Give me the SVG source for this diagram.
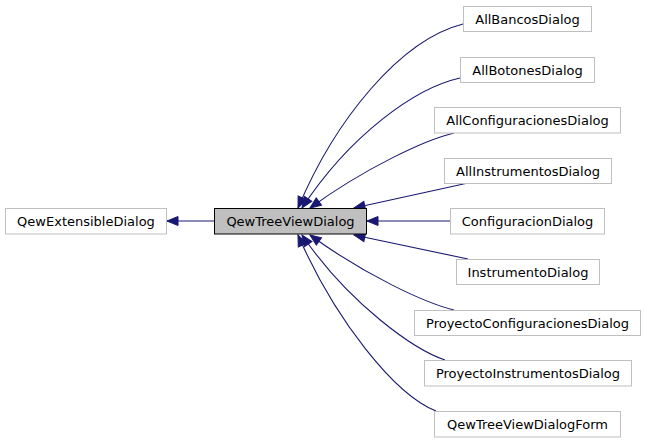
<svg xmlns="http://www.w3.org/2000/svg" width="645" height="443" viewBox="0 0 645 443">
<defs>
<style>
.n rect{fill:#ffffff;stroke:#bfbfbf;stroke-width:1}
.n text{font-family:"DejaVu Sans",sans-serif;font-size:13px;fill:#000000;text-anchor:middle}
#n_main rect{fill:#bfbfbf;stroke:#000000}
.e path{fill:none;stroke:#191970;stroke-width:1.1;marker-end:url(#ah)}
</style>
<marker id="ah" markerUnits="userSpaceOnUse" markerWidth="13" markerHeight="10" refX="11" refY="4.5" orient="auto" overflow="visible">
<path d="M0,0 L11,4.5 L0,9 z" fill="#191970" stroke="#191970" stroke-width="1"/>
</marker>
</defs>
<rect width="645" height="443" fill="#ffffff"/>
<g class="e" id="edges">
<path d="M214,221 L167,221"/>
<path d="M463,24 C400,40 335,120 298,208"/>
<path d="M460,78 C415,88 350,135 302,208"/>
<path d="M454,133 C425,140 365,168 310,208"/>
<path d="M468,183 L354,208"/>
<path d="M450,221 L367,221"/>
<path d="M468,259 L354,235"/>
<path d="M454,310 C425,303 365,275 310,235"/>
<path d="M445,360 C415,350 350,305 302,235"/>
<path d="M436,411 C395,395 335,320 298,235"/>
</g>
<g class="n" id="n_ext"><rect x="5.5" y="208.5" width="161" height="25.5"/><text x="86" y="225.5">QewExtensibleDialog</text></g>
<g class="n" id="n_main"><rect x="214.5" y="208.5" width="152" height="25.5"/><text x="290.5" y="225.5">QewTreeViewDialog</text></g>
<g class="n" id="n_bancos"><rect x="463.5" y="6.5" width="128" height="25"/><text x="527.5" y="23.5">AllBancosDialog</text></g>
<g class="n" id="n_botones"><rect x="460.5" y="57.5" width="134" height="25"/><text x="527.5" y="74.5">AllBotonesDialog</text></g>
<g class="n" id="n_allconf"><rect x="434.5" y="107.5" width="186" height="25.5"/><text x="527.5" y="124.5">AllConfiguracionesDialog</text></g>
<g class="n" id="n_allinst"><rect x="444.5" y="158.5" width="167" height="25"/><text x="528" y="175.5">AllInstrumentosDialog</text></g>
<g class="n" id="n_conf"><rect x="450.5" y="208.5" width="154" height="25.5"/><text x="527.5" y="225.5">ConfiguracionDialog</text></g>
<g class="n" id="n_inst"><rect x="456.5" y="259.5" width="143" height="25"/><text x="528" y="276.5">InstrumentoDialog</text></g>
<g class="n" id="n_pconf"><rect x="414.5" y="310.5" width="226" height="25"/><text x="527.5" y="327.5">ProyectoConfiguracionesDialog</text></g>
<g class="n" id="n_pinst"><rect x="424.5" y="360.5" width="207" height="25.5"/><text x="528" y="377.5">ProyectoInstrumentosDialog</text></g>
<g class="n" id="n_form"><rect x="434.5" y="411.5" width="186" height="25.5"/><text x="527.5" y="428.5">QewTreeViewDialogForm</text></g>
</svg>
